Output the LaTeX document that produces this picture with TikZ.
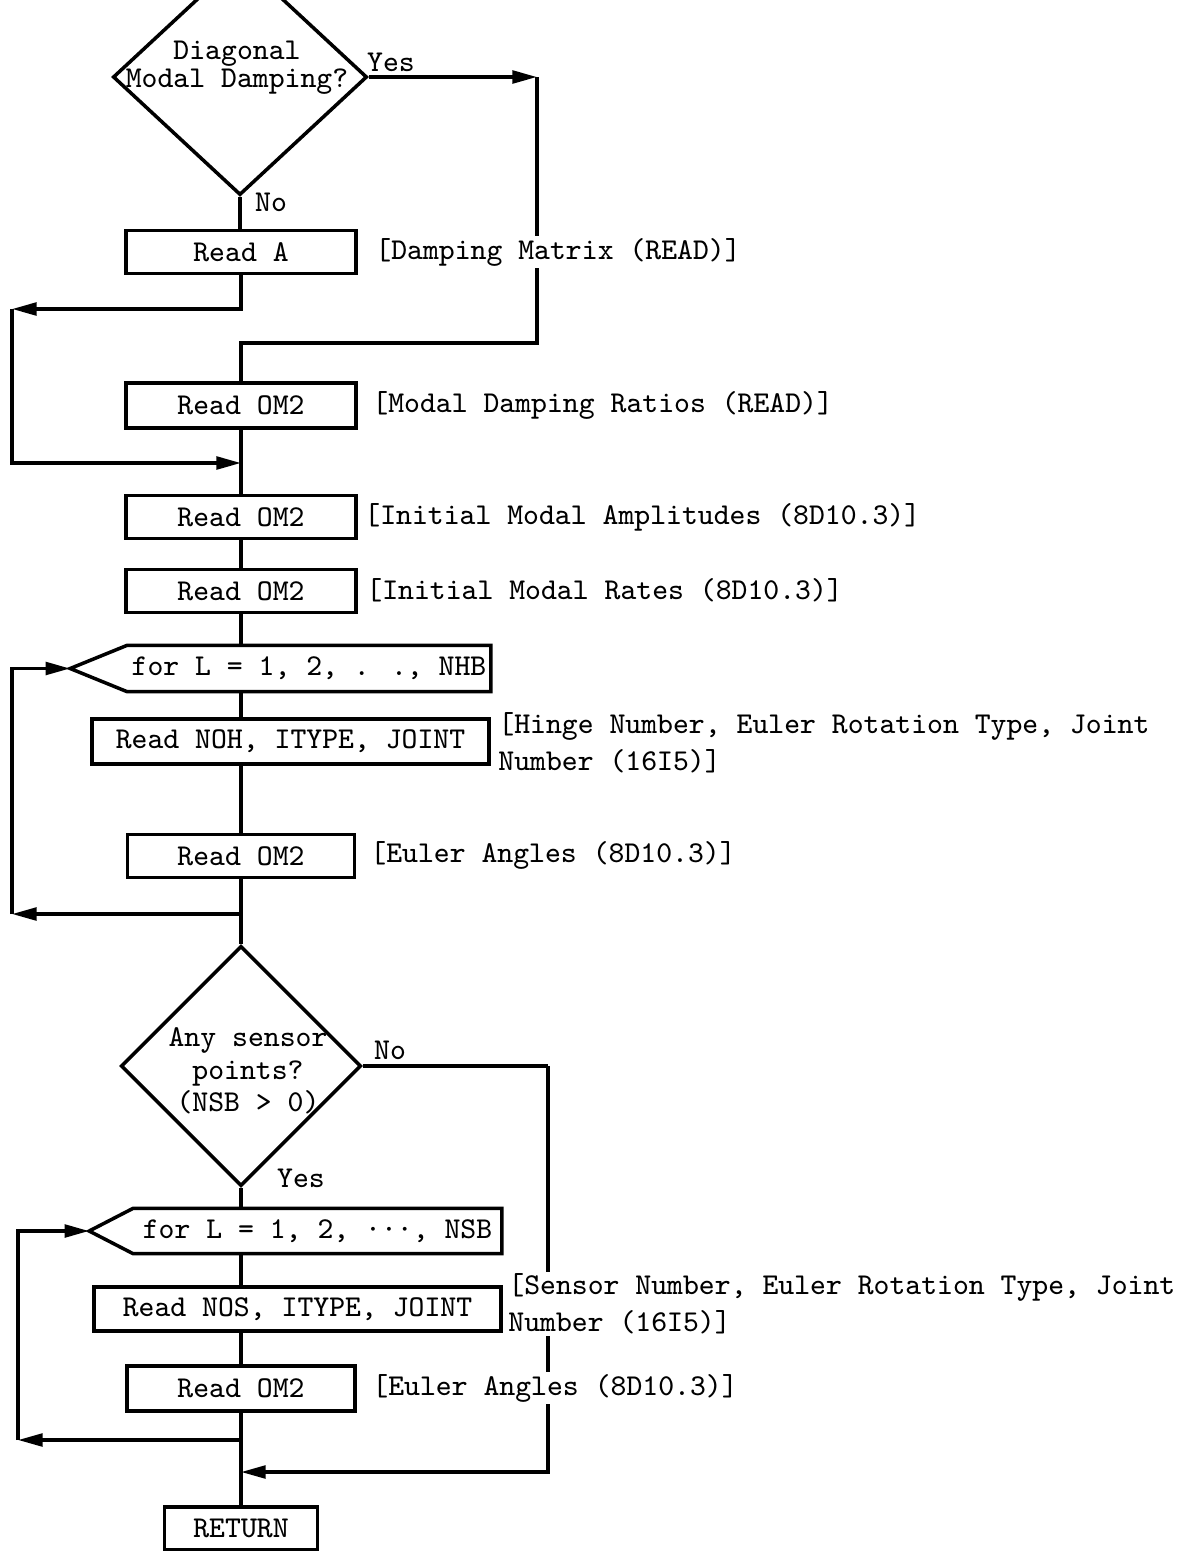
\documentclass[tikz,border=0pt]{standalone}
\usepackage{tikz}
\usetikzlibrary{arrows.meta, shapes.geometric}

\tikzset{
	readbox/.style={draw, line width=1pt, minimum width=2.3cm, minimum height=0.43cm, inner sep=0pt},
	decision/.style={draw, line width=1pt, diamond, inner sep=0pt},
	loopbox/.style={inner sep=0pt, minimum height=0.45cm},
	note/.style={anchor=west, fill=white, inner sep=0.5pt, align=left},
	flow/.style={line width=1pt, -{Triangle[length=7pt,width=3.6pt]}},
	wire/.style={line width=1pt}
}

\begin{document}
\begin{tikzpicture}[x=0.01cm, y=-0.01cm, font=\fontsize{8.6}{10.5}\selectfont\ttfamily]
	\useasboundingbox (0,0) rectangle (1178,1551);
	\clip (0,0) rectangle (1178,1551);

	% Damping decision
	\node[decision, minimum width=2.54cm, minimum height=2.36cm] (dmp) at (240,77) {};
	\node[align=center, font=\fontsize{8.6}{8}\selectfont\ttfamily] (dmptxt) at (237,68) {Diagonal\\Modal Damping?};
	\node (dmpyes) at (391,62) {Yes};
	\node (dmpno) at (271,202) {No};

	% Read blocks
	\node[readbox] (ra) at (241,252) {Read A};
	\node[readbox, minimum height=0.45cm] (om2a) at (241,405.5) {Read OM2};
	\node[readbox] (om2b) at (241,517) {Read OM2};
	\node[readbox] (om2c) at (241,591) {Read OM2};

	% Hinge loop
	\node[loopbox, minimum width=3.62cm] (hb) at (309,668.5) {for L = 1, 2, . ., NHB};
	\draw[wire] (hb.north east) -- (hb.north west) -- ([xshift=-0.57cm]hb.west) coordinate (hbtip) -- (hb.south west) -- (hb.south east) -- cycle;
	\node[readbox, minimum width=3.97cm, minimum height=0.45cm] (noh) at (290.5,741.5) {Read NOH, ITYPE, JOINT};
	\node[readbox, minimum width=2.27cm] (om2d) at (241,856) {Read OM2};

	% Sensor decision
	\node[decision, minimum width=2.4cm, minimum height=2.4cm] (sen) at (241,1066) {};
	\node[align=center, font=\fontsize{8.6}{9.2}\selectfont\ttfamily] (sentxt) at (248,1071) {Any sensor\\points?\\(NSB > 0)};
	\node (senno) at (390,1050) {No};
	\node (senyes) at (301,1178) {Yes};

	% Sensor loop
	\node[loopbox, minimum width=3.67cm, minimum height=0.44cm] (ns) at (317.5,1231) {for L = 1, 2, \textperiodcentered\textperiodcentered\textperiodcentered, NSB};
	\draw[wire] (ns.north east) -- (ns.north west) -- ([xshift=-0.44cm]ns.west) coordinate (nstip) -- (ns.south west) -- (ns.south east) -- cycle;
	\node[readbox, minimum width=4.07cm, minimum height=0.44cm] (nos) at (297.5,1309) {Read NOS, ITYPE, JOINT};
	\node[readbox, minimum width=2.28cm, minimum height=0.45cm] (om2e) at (241,1388.5) {Read OM2};
	\node[readbox, minimum width=1.53cm] (rt) at (241,1528.5) {RETURN};

	% Junctions
	\coordinate (yc1) at (537,77);
	\coordinate (yc2) at (537,343);
	\coordinate (lc1) at (12,309);
	\coordinate (j1) at (241,463);
	\coordinate (j2) at (241,914);
	\coordinate (lc4) at (12,914);
	\coordinate (nc1) at (548,1066);
	\coordinate (nc2) at (548,1472);
	\coordinate (j3) at (241,1440);
	\coordinate (lc3) at (18,1440);
	\coordinate (j4) at (241,1472);

	% Connectors, upper part
	\draw[wire] (dmp.south) -- (dmp.south |- ra.north);
	\draw[flow] (dmp.east) -- (yc1);
	\draw[wire] (yc1) -- (yc2) -| (om2a.north);
	\draw[flow] (ra.south) |- (lc1);
	\draw[flow] (lc1) |- (j1);
	\draw[wire] (om2a.south) -- (om2b.north);
	\draw[wire] (om2b.south) -- (om2c.north);
	\draw[wire] (om2c.south) -- (om2c.south |- hb.north);
	\draw[wire] (om2c.south |- hb.south) -- (om2c.south |- noh.north);
	\draw[wire] (om2c.south |- noh.south) -- (om2d.north);
	\draw[wire] (om2d.south) -- (j2);
	\draw[flow] (j2) -- (lc4);
	\draw[flow] (lc4) |- (hbtip);
	\draw[wire] (j2) -- (sen.north);

	% Connectors, lower part
	\draw[wire] (sen.east) -- (nc1);
	\draw[flow] (nc1) |- (j4);
	\draw[wire] (sen.south) -- (sen.south |- ns.north);
	\draw[wire] (sen.south |- ns.south) -- (sen.south |- nos.north);
	\draw[wire] (sen.south |- nos.south) -- (om2e.north);
	\draw[wire] (om2e.south) -- (rt.north);
	\draw[flow] (j3) -- (lc3);
	\draw[flow] (lc3) |- (nstip);

	% Notes
	\node[note] (dmlab) at (373,252) {[Damping Matrix (READ)]};
	\node[note] (mdlab) at (370,405) {[Modal Damping Ratios (READ)]};
	\node[note] (malab) at (362,517) {[Initial Modal Amplitudes (8D10.3)]};
	\node[note] (mrlab) at (364,590) {[Initial Modal Rates (8D10.3)]};
	\node[note] (hnlab) at (496,743) {[Hinge Number, Euler Rotation Type, Joint\\Number (16I5)]};
	\node[note] (ealab) at (368,855) {[Euler Angles (8D10.3)]};
	\node[note] (snlab) at (506,1304) {[Sensor Number, Euler Rotation Type, Joint\\Number (16I5)]};
	\node[note] (eblab) at (370,1388) {[Euler Angles (8D10.3)]};
\end{tikzpicture}
\end{document}
